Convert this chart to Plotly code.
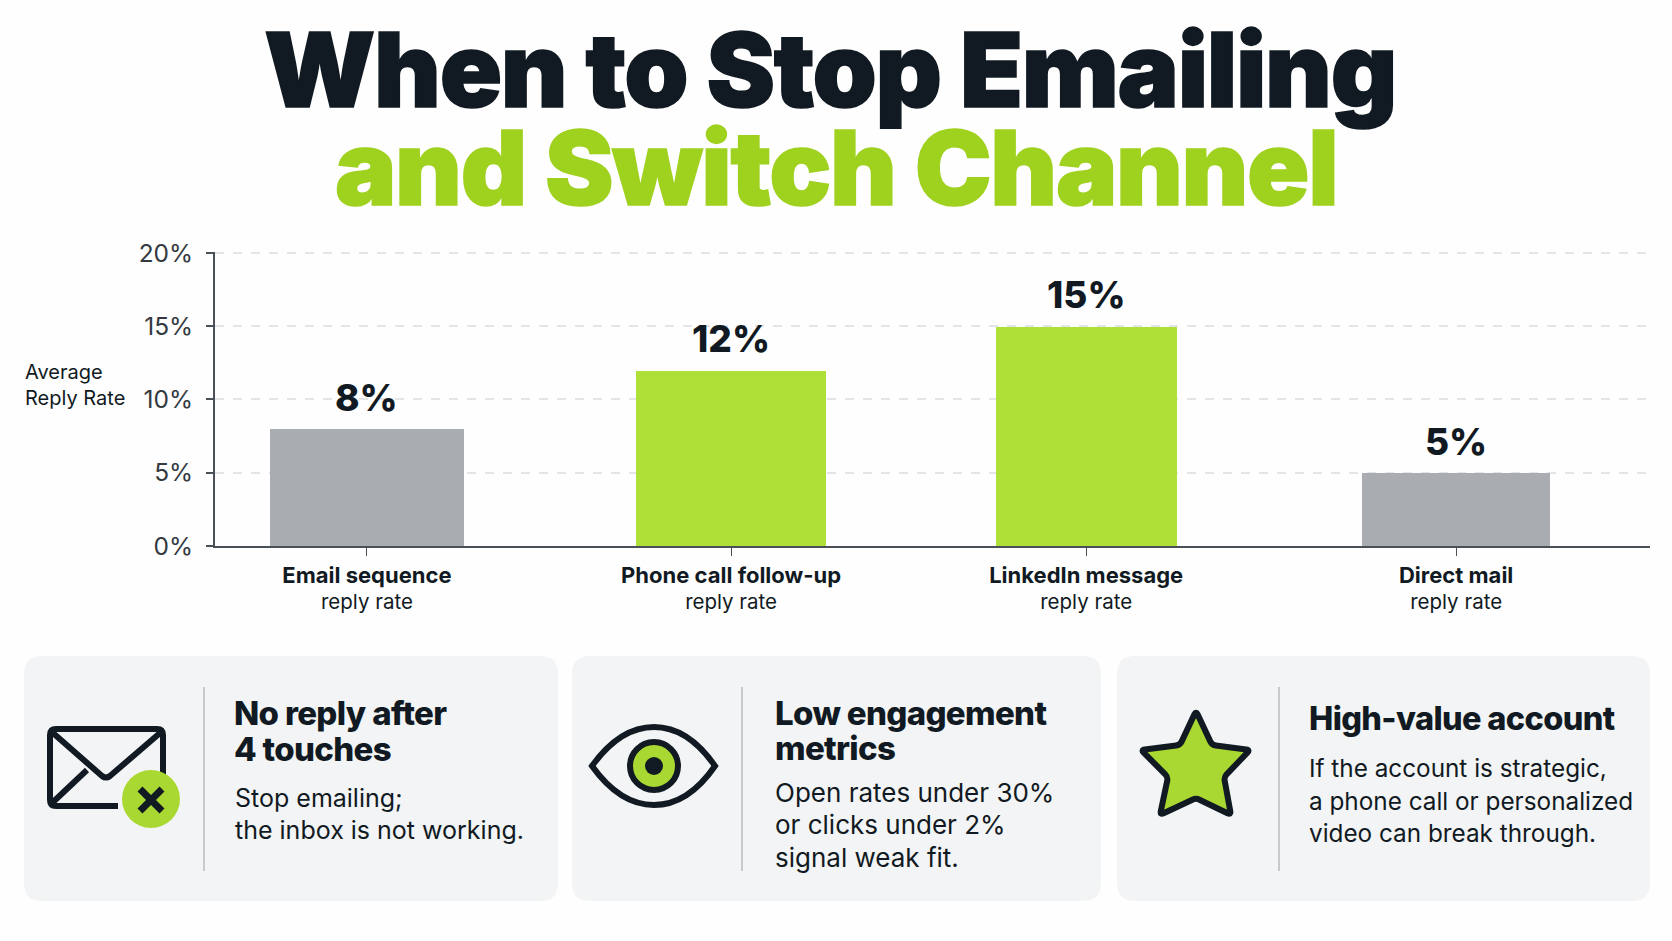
import plotly.graph_objects as go

# chart data
channels = ["Email sequence", "Phone call follow-up", "LinkedIn message", "Direct mail"]
reply_rates = [8, 12, 15, 5]
y_ticks = [0, 5, 10, 15, 20]

# bars are not quite evenly spaced in the picture
bar_slots = [0, 1.003, 1.981, 3]
bar_widths = [0.534, 0.523, 0.499, 0.518]

DARK = "#111a22"
GREEN = "#9fd11f"
ICON_GREEN = "#aad832"
BAR_GREEN = "#afe038"
GREY = "#a9adb1"
CARD = "#f3f4f5"
AXIS = "#4a5058"
bar_colors = [GREY, BAR_GREEN, BAR_GREEN, GREY]

W, H = 1672, 941
FONT = "Inter"

fig = go.Figure()

fig.add_trace(go.Bar(
    x=bar_slots, y=reply_rates, width=bar_widths,
    marker=dict(color=bar_colors, line_width=0),
    hoverinfo="skip", showlegend=False,
))

# invisible trace so the pixel axes exist
fig.add_trace(go.Scatter(x=[0], y=[0], xaxis="x2", yaxis="y2", mode="markers",
                         marker_opacity=0, hoverinfo="skip", showlegend=False))

fig.update_layout(
    width=W, height=H,
    margin=dict(l=0, r=0, t=0, b=0, autoexpand=False),
    paper_bgcolor="#fefefe", plot_bgcolor="rgba(0,0,0,0)",
    font=dict(family=FONT, color=DARK),
    bargap=0,
    xaxis=dict(
        domain=[215 / W, 1650 / W], range=[-0.4185, 3.534],
        tickvals=bar_slots,
        ticktext=["<span style='font-size:22px'><b>%s</b></span><br><span style='font-size:20.5px;font-weight:400'>reply rate</span>" % c for c in channels],
        tickfont=dict(size=20, color=DARK, family=FONT),
        ticks="outside", ticklen=8, tickcolor=AXIS, tickwidth=1, ticklabelstandoff=3,
        showgrid=False, zeroline=False,
        showline=True, linecolor=AXIS, linewidth=2,
    ),
    yaxis=dict(
        # the little extra on top keeps the 20% grid line from being dropped
        domain=[1 - 546 / H, 1 - 251.5 / H], range=[0, 20.1],
        tickvals=y_ticks, ticktext=["%d%%" % v for v in y_ticks],
        tickfont=dict(size=24.5, color="#33393f", family=FONT),
        ticks="outside", ticklen=7, tickcolor=AXIS, tickwidth=2, ticklabelstandoff=8,
        showgrid=True, gridcolor="#e3e5e7", griddash="dash", gridwidth=1.5,
        zeroline=False,
        showline=True, linecolor=AXIS, linewidth=2,
    ),
    xaxis2=dict(domain=[0, 1], range=[0, W], visible=False, anchor="y2"),
    yaxis2=dict(domain=[0, 1], range=[H, 0], visible=False, anchor="x2"),
)


def text_line(x, baseline, s, size, color=DARK, weight=400, anchor="left", style=None):
    # place one line of text by its baseline, in picture pixels
    if style is not None:
        s = "<span style='%s'>%s</span>" % (style, s)
    fig.add_annotation(
        xref="x2", yref="y2", x=x, y=baseline, text=s, showarrow=False,
        xanchor=anchor, yanchor="bottom", yshift=-0.27 * size, borderpad=0,
        font=dict(family=FONT, size=size, color=color, weight=weight),
    )


def shape_path(path, fill=None, line=DARK, lw=5):
    fig.add_shape(type="path", xref="x2", yref="y2", path=path,
                  fillcolor=fill or "rgba(0,0,0,0)", line=dict(color=line, width=lw))


def circle(cx, cy, r, fill=None, line=DARK, lw=0):
    fig.add_shape(type="circle", xref="x2", yref="y2",
                  x0=cx - r, x1=cx + r, y0=cy - r, y1=cy + r,
                  fillcolor=fill or "rgba(0,0,0,0)",
                  line=dict(color=line, width=lw))


def rounded_poly(pts, k=0.1):
    # closed polygon with the corners softened by small curves
    n = len(pts)
    d = ""
    for i in range(n):
        p0, p1, p2 = pts[i - 1], pts[i], pts[(i + 1) % n]
        a = (p1[0] + (p0[0] - p1[0]) * k, p1[1] + (p0[1] - p1[1]) * k)
        b = (p1[0] + (p2[0] - p1[0]) * k, p1[1] + (p2[1] - p1[1]) * k)
        d += ("M" if i == 0 else "L") + " %.1f %.1f Q %.1f %.1f %.1f %.1f " % (a[0], a[1], p1[0], p1[1], b[0], b[1])
    return d + "Z"


# title, Inter Black with a thin outline to get the reference's extra weight
TITLE_STYLE = "letter-spacing:-0.013em;stroke:%s;stroke-width:1.5px"
text_line(830, 105, "When to Stop Emailing", 103, DARK, 900, "center", TITLE_STYLE % DARK)
text_line(836, 203, "and Switch Channel", 103, GREEN, 900, "center", TITLE_STYLE % GREEN)

# y axis caption
text_line(24, 380, "Average", 20)
text_line(24, 406, "Reply Rate", 20)

# value labels over the bars
for slot, v in zip(bar_slots, reply_rates):
    fig.add_annotation(x=slot, y=v, text="%d%%" % v, showarrow=False, yanchor="bottom", yshift=7,
                       font=dict(family=FONT, size=37, color=DARK, weight=800))

# cards
card_boxes = [(24, 558), (572, 1101), (1117, 1650)]
divider_xs = [204, 742, 1279]
for (x0, x1), dx in zip(card_boxes, divider_xs):
    y0, y1, r = 656, 901, 18
    shape_path("M %d %d L %d %d Q %d %d %d %d L %d %d Q %d %d %d %d L %d %d Q %d %d %d %d L %d %d Q %d %d %d %d Z" % (
        x0 + r, y0, x1 - r, y0, x1, y0, x1, y0 + r, x1, y1 - r, x1, y1, x1 - r, y1,
        x0 + r, y1, x0, y1, x0, y1 - r, x0, y0 + r, x0, y0, x0 + r, y0), fill=CARD, line=CARD, lw=0)
    fig.add_shape(type="line", xref="x2", yref="y2", x0=dx, x1=dx, y0=687, y1=871,
                  line=dict(color="#b9bcbf", width=1.5))

# card text
HEAD_STYLE = "letter-spacing:-0.02em"
text_line(233, 725, "No reply after", 33, DARK, 800, style=HEAD_STYLE)
text_line(233, 761, "4 touches", 33, DARK, 800, style=HEAD_STYLE)
text_line(234, 807, "Stop emailing;", 25)
text_line(234, 839, "the inbox is not working.", 25)

text_line(774, 725, "Low engagement", 33, DARK, 800, style=HEAD_STYLE)
text_line(774, 760, "metrics", 33, DARK, 800, style=HEAD_STYLE)
text_line(774, 802, "Open rates under 30%", 26)
text_line(774, 834, "or clicks under 2%", 26)
text_line(774, 867, "signal weak fit.", 26)

text_line(1308, 730, "High-value account", 32.5, DARK, 800, style=HEAD_STYLE)
text_line(1308, 777, "If the account is strategic,", 24.3)
text_line(1308, 810, "a phone call or personalized", 24.3)
text_line(1308, 842, "video can break through.", 24.3)

# envelope icon
shape_path("M 118 806 L 56 806 Q 50 806 50 800 L 50 735 Q 50 729 56 729 L 157 729 Q 163 729 163 735 L 163 778", lw=6)
shape_path("M 53 733 L 102 776 Q 106 779 110 776 L 160 733", lw=6)
shape_path("M 52 803 L 87 770", lw=6)
circle(151, 799, 29, fill=ICON_GREEN)
shape_path("M 140 789 L 162 811 M 162 789 L 140 811", lw=7)

# eye icon
shape_path("M 592 766 Q 620 727 654 727 Q 688 727 715 766 Q 688 805 654 805 Q 620 805 592 766 Z", lw=6)
circle(654, 766, 24, fill=ICON_GREEN, lw=6)
circle(654, 766, 9, fill=DARK)

# star icon
star_pts = [(1196, 711), (1212, 745), (1250, 750), (1224, 777), (1231, 815),
            (1196, 798), (1160, 815), (1168, 777), (1141, 750), (1180, 745)]
shape_path(rounded_poly(star_pts), fill=ICON_GREEN, lw=6)

fig.write_html("out.html", config=dict(displayModeBar=False), post_script="document.body.style.margin='0';")
